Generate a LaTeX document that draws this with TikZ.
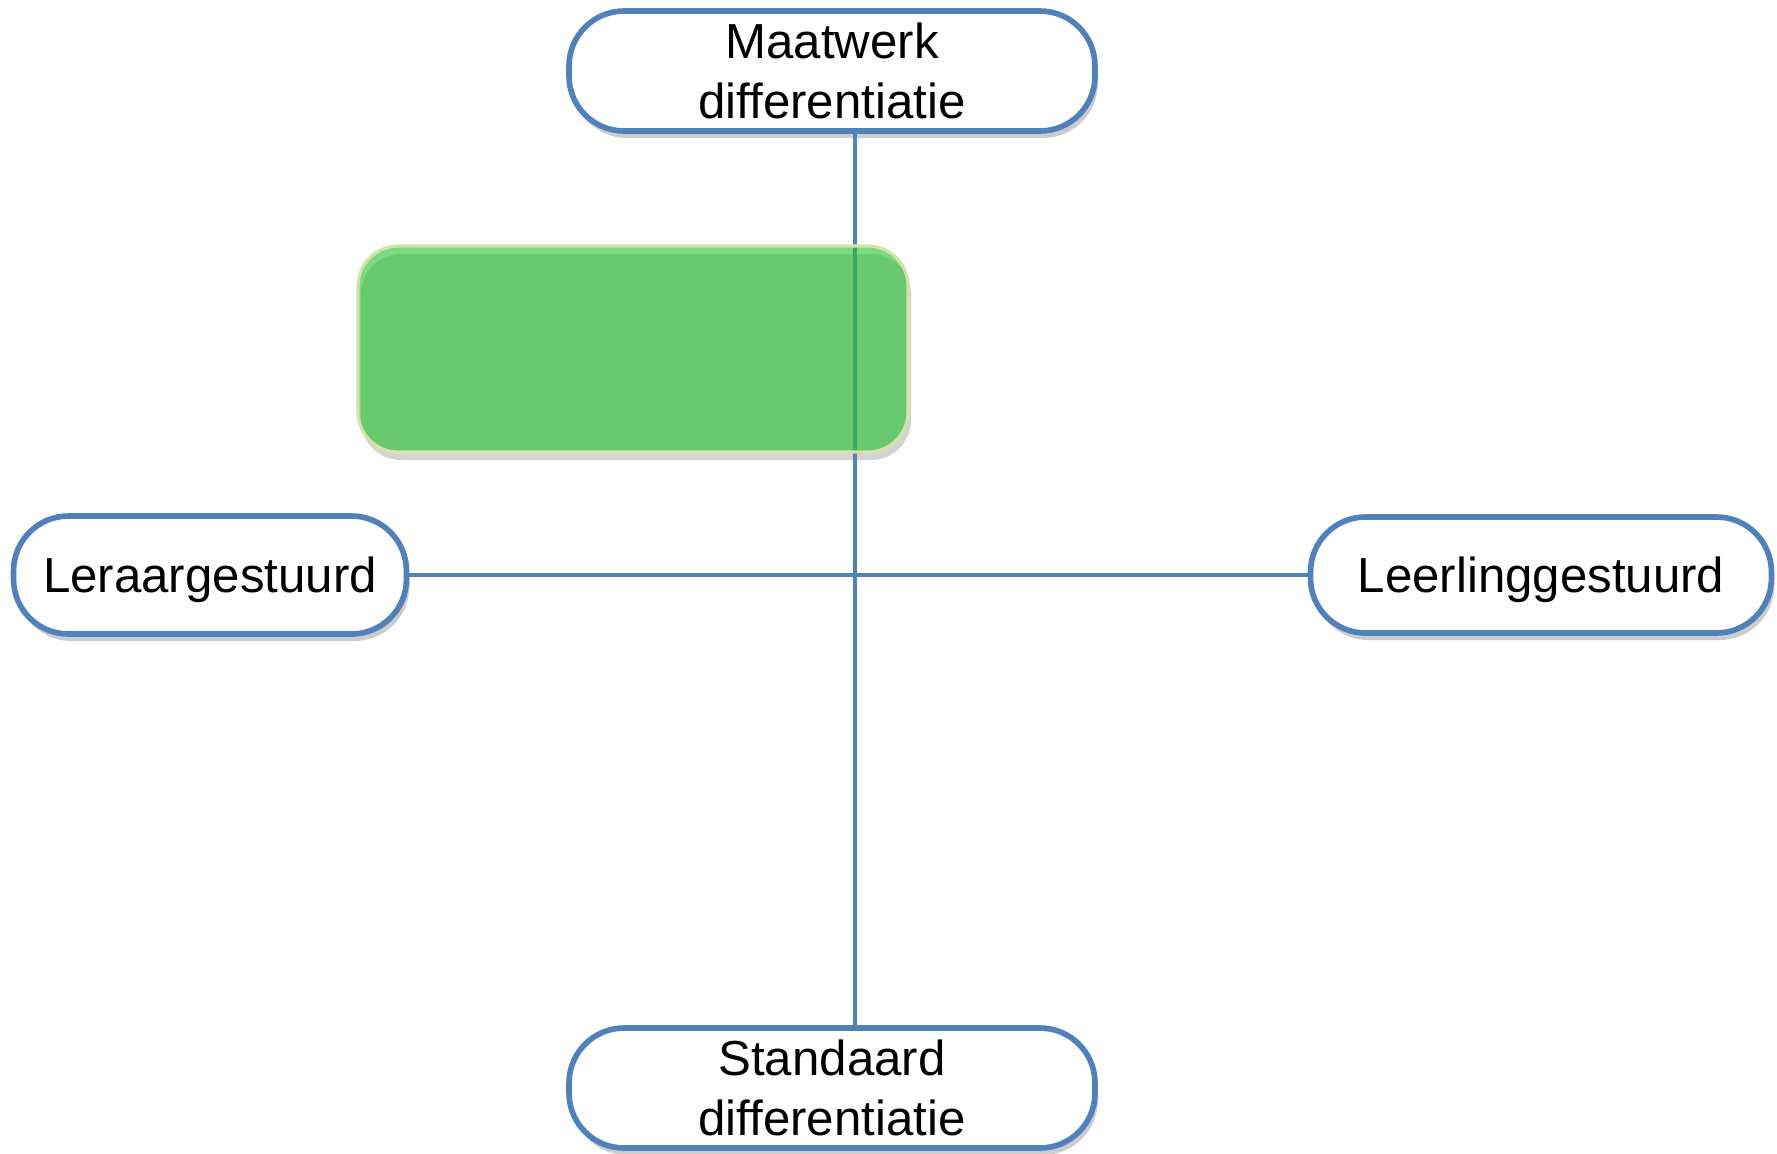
\documentclass[tikz,border=0pt]{standalone}
\usepackage{fontspec}
\setmainfont{Liberation Sans}
\usetikzlibrary{shadows}
\pgfdeclarelayer{back}
\pgfsetlayers{back,main}
\definecolor{poleblue}{RGB}{79,129,189}
\definecolor{zonegreen}{RGB}{40,195,50}
\definecolor{zoneedge}{RGB}{214,226,170}
\tikzset{
  pole/.style={draw=poleblue, line width=1.6pt, fill=white, rounded corners=5.5mm,
    inner sep=0pt, align=center, font=\fontsize{14}{17}\selectfont,
    drop shadow={opacity=0.4, shadow xshift=0.3mm, shadow yshift=-0.7mm}},
  zone/.style={draw=zoneedge, line width=0.9pt, fill=zonegreen, fill opacity=0.62,
    rounded corners=4mm, inner sep=0pt,
    drop shadow={opacity=0.35, shadow xshift=0.3mm, shadow yshift=-0.8mm}},
  axis/.style={draw=poleblue, line width=1.3pt}
}
\begin{document}
\begin{tikzpicture}[x=0.1mm,y=-0.1mm]
      \useasboundingbox (0,0) rectangle (1777,1153);
      \node[pole, minimum width=52.6mm, minimum height=12mm] (top) at (832,71) {Maatwerk\\differentiatie};
      \node[pole, minimum width=52.6mm, minimum height=12mm] (bottom) at (832,1088) {Standaard\\differentiatie};
      \node[pole, text depth=0pt, minimum width=39.3mm, minimum height=11.8mm] (left) at (210,575) {Leraargestuurd};
      \node[pole, text depth=0pt, minimum width=46.1mm, minimum height=11.6mm] (right) at (1541,575) {Leerlinggestuurd};
      \coordinate (mid) at (855,575);
      \begin{pgfonlayer}{back}
        \draw[axis] (left) to (right);
        \draw[axis] (top.south -| mid) to (bottom.north -| mid);
      \end{pgfonlayer}
      \node[zone, minimum width=55mm, minimum height=20.6mm] (zone) at (633,349) {};
    \end{tikzpicture}
\end{document}
